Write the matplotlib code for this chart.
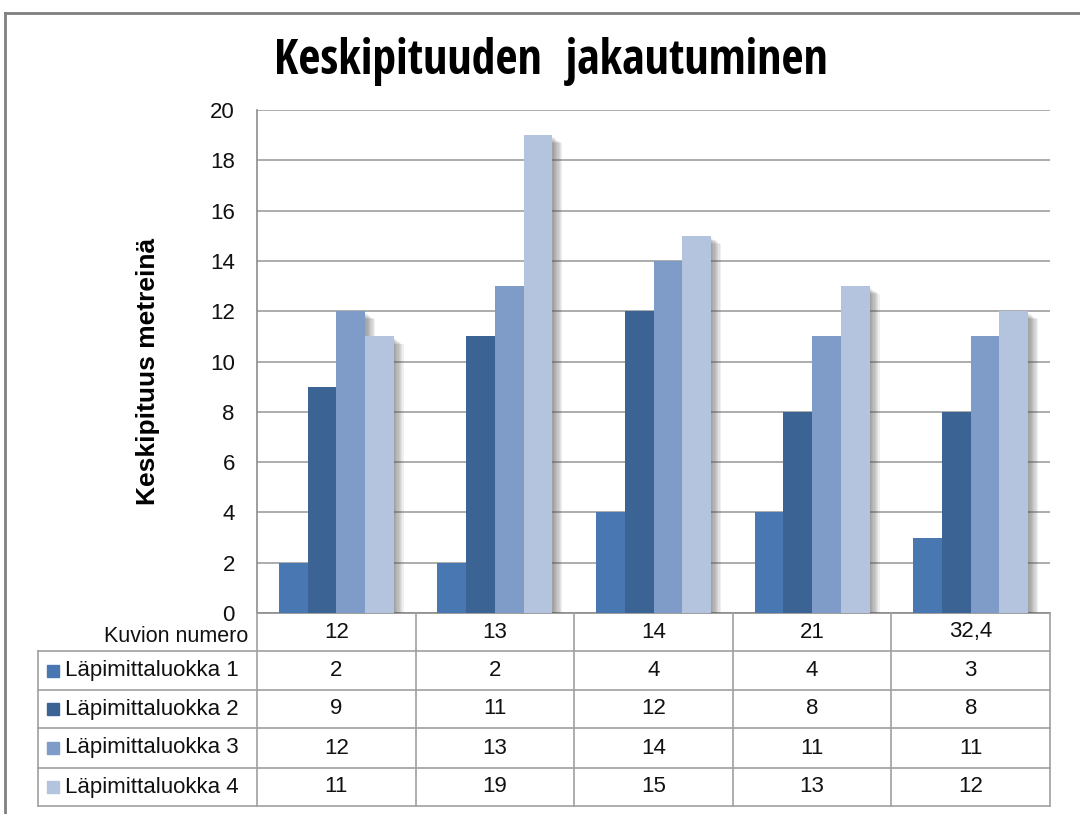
import numpy as np
import matplotlib
matplotlib.use("Agg")
import matplotlib.pyplot as plt
import matplotlib.patheffects as pe
from matplotlib.lines import Line2D
from matplotlib.patches import Rectangle

# Kuvioittaiset keskipituudet läpimittaluokittain
kuviot = ['12', '13', '14', '21', '32,4']
luokka1 = [2, 2, 4, 4, 3]
luokka2 = [9, 11, 12, 8, 8]
luokka3 = [12, 13, 14, 11, 11]
luokka4 = [11, 19, 15, 13, 12]
sarjat = ['Läpimittaluokka 1', 'Läpimittaluokka 2', 'Läpimittaluokka 3', 'Läpimittaluokka 4']
varit = ['#4877B1', '#3B6495', '#7F9BC8', '#B4C3DE']

plt.rcParams['font.family'] = ['Liberation Sans', 'DejaVu Sans']
kapea = ['Open Sans Condensed', 'Liberation Sans']

W, H = 1080, 814
fig = plt.figure(figsize=(W / 100, H / 100), dpi=100)

# plot area in pixels
x0, x1, ytop, ybot = 257, 1050, 110, 613
ax = fig.add_axes([x0 / W, (H - ybot) / H, (x1 - x0) / W, (ybot - ytop) / H])

data = [luokka1, luokka2, luokka3, luokka4]
n = len(kuviot)
xs = np.arange(n)
bw = 0.181
# soft drop shadow: several faint offset copies
shadow = [pe.SimplePatchShadow(offset=(k * 0.9, -k * 0.6 - 1), shadow_rgbFace='#555555', alpha=0.09)
          for k in range(8, 0, -1)] + [pe.Normal()]
for i, vals in enumerate(data):
    bars = ax.bar(xs + (i - 1.5) * bw, vals, bw, color=varit[i], zorder=3 + 0.1 * i,
                  edgecolor='none')
    for b in bars:
        b.set_path_effects(shadow)

ax.set_xlim(-0.5, n - 0.5)
ax.set_ylim(0, 20)
ax.set_yticks(range(0, 21, 2))
ax.tick_params(axis='y', labelsize=16, length=0, pad=16, labelcolor='#111111')
ax.set_xticks([])
ax.grid(axis='y', color='#A6A6A6', lw=1.3, zorder=0)
for s in ['top', 'right']:
    ax.spines[s].set_visible(False)
for s in ['left', 'bottom']:
    ax.spines[s].set_color('#8C8C8C')
    ax.spines[s].set_linewidth(1.2)

fig.text(551 / W, 1 - 62 / H, 'Keskipituuden  jakautuminen', ha='center', va='center',
         fontsize=34.5, fontweight='bold', family=kapea)
fig.text(148 / W, 1 - 371 / H, 'Keskipituus metreinä', rotation=90, ha='center',
         va='center', fontsize=19, fontweight='bold')

# data table below the plot
rows = [651, 690, 728, 768, 806]
cols = [x0 + (x1 - x0) * k / n for k in range(n + 1)]
lc = '#A0A0A0'


def hline(y, xa, xb):
    fig.add_artist(Line2D([xa / W, xb / W], [1 - y / H, 1 - y / H], color=lc, lw=1.2))


def vline(x, ya, yb):
    fig.add_artist(Line2D([x / W, x / W], [1 - ya / H, 1 - yb / H], color=lc, lw=1.2))


for y in rows:
    hline(y, 38, x1)
for x in cols:
    vline(x, ybot, rows[-1])
vline(38, rows[0], rows[-1])

fs = 16
fig.text(248 / W, 1 - 636 / H, 'Kuvion numero', ha='right', va='center',
         fontsize=15.5, color='#111111')
for k in range(n):
    cx = (cols[k] + cols[k + 1]) / 2
    fig.text(cx / W, 1 - (ybot + rows[0]) / 2 / H, kuviot[k], ha='center', va='center',
             fontsize=fs, color='#111111')

for i, vals in enumerate(data):
    yc = (rows[i] + rows[i + 1]) / 2
    fig.add_artist(Rectangle((47 / W, 1 - (yc + 6) / H), 12 / W, 12 / H, color=varit[i]))
    fig.text(65 / W, 1 - yc / H, sarjat[i], ha='left', va='center', fontsize=fs, color='#111111')
    for k in range(n):
        cx = (cols[k] + cols[k + 1]) / 2
        fig.text(cx / W, 1 - yc / H, str(vals[k]), ha='center', va='center', fontsize=fs,
                 color='#111111')

# chart frame
fig.add_artist(Line2D([5 / W, 1.0], [1 - 13 / H, 1 - 13 / H], color='#808080', lw=2))
fig.add_artist(Line2D([5 / W, 5 / W], [1 - 13 / H, 0], color='#808080', lw=2))

fig.savefig('out.png', dpi=100)
